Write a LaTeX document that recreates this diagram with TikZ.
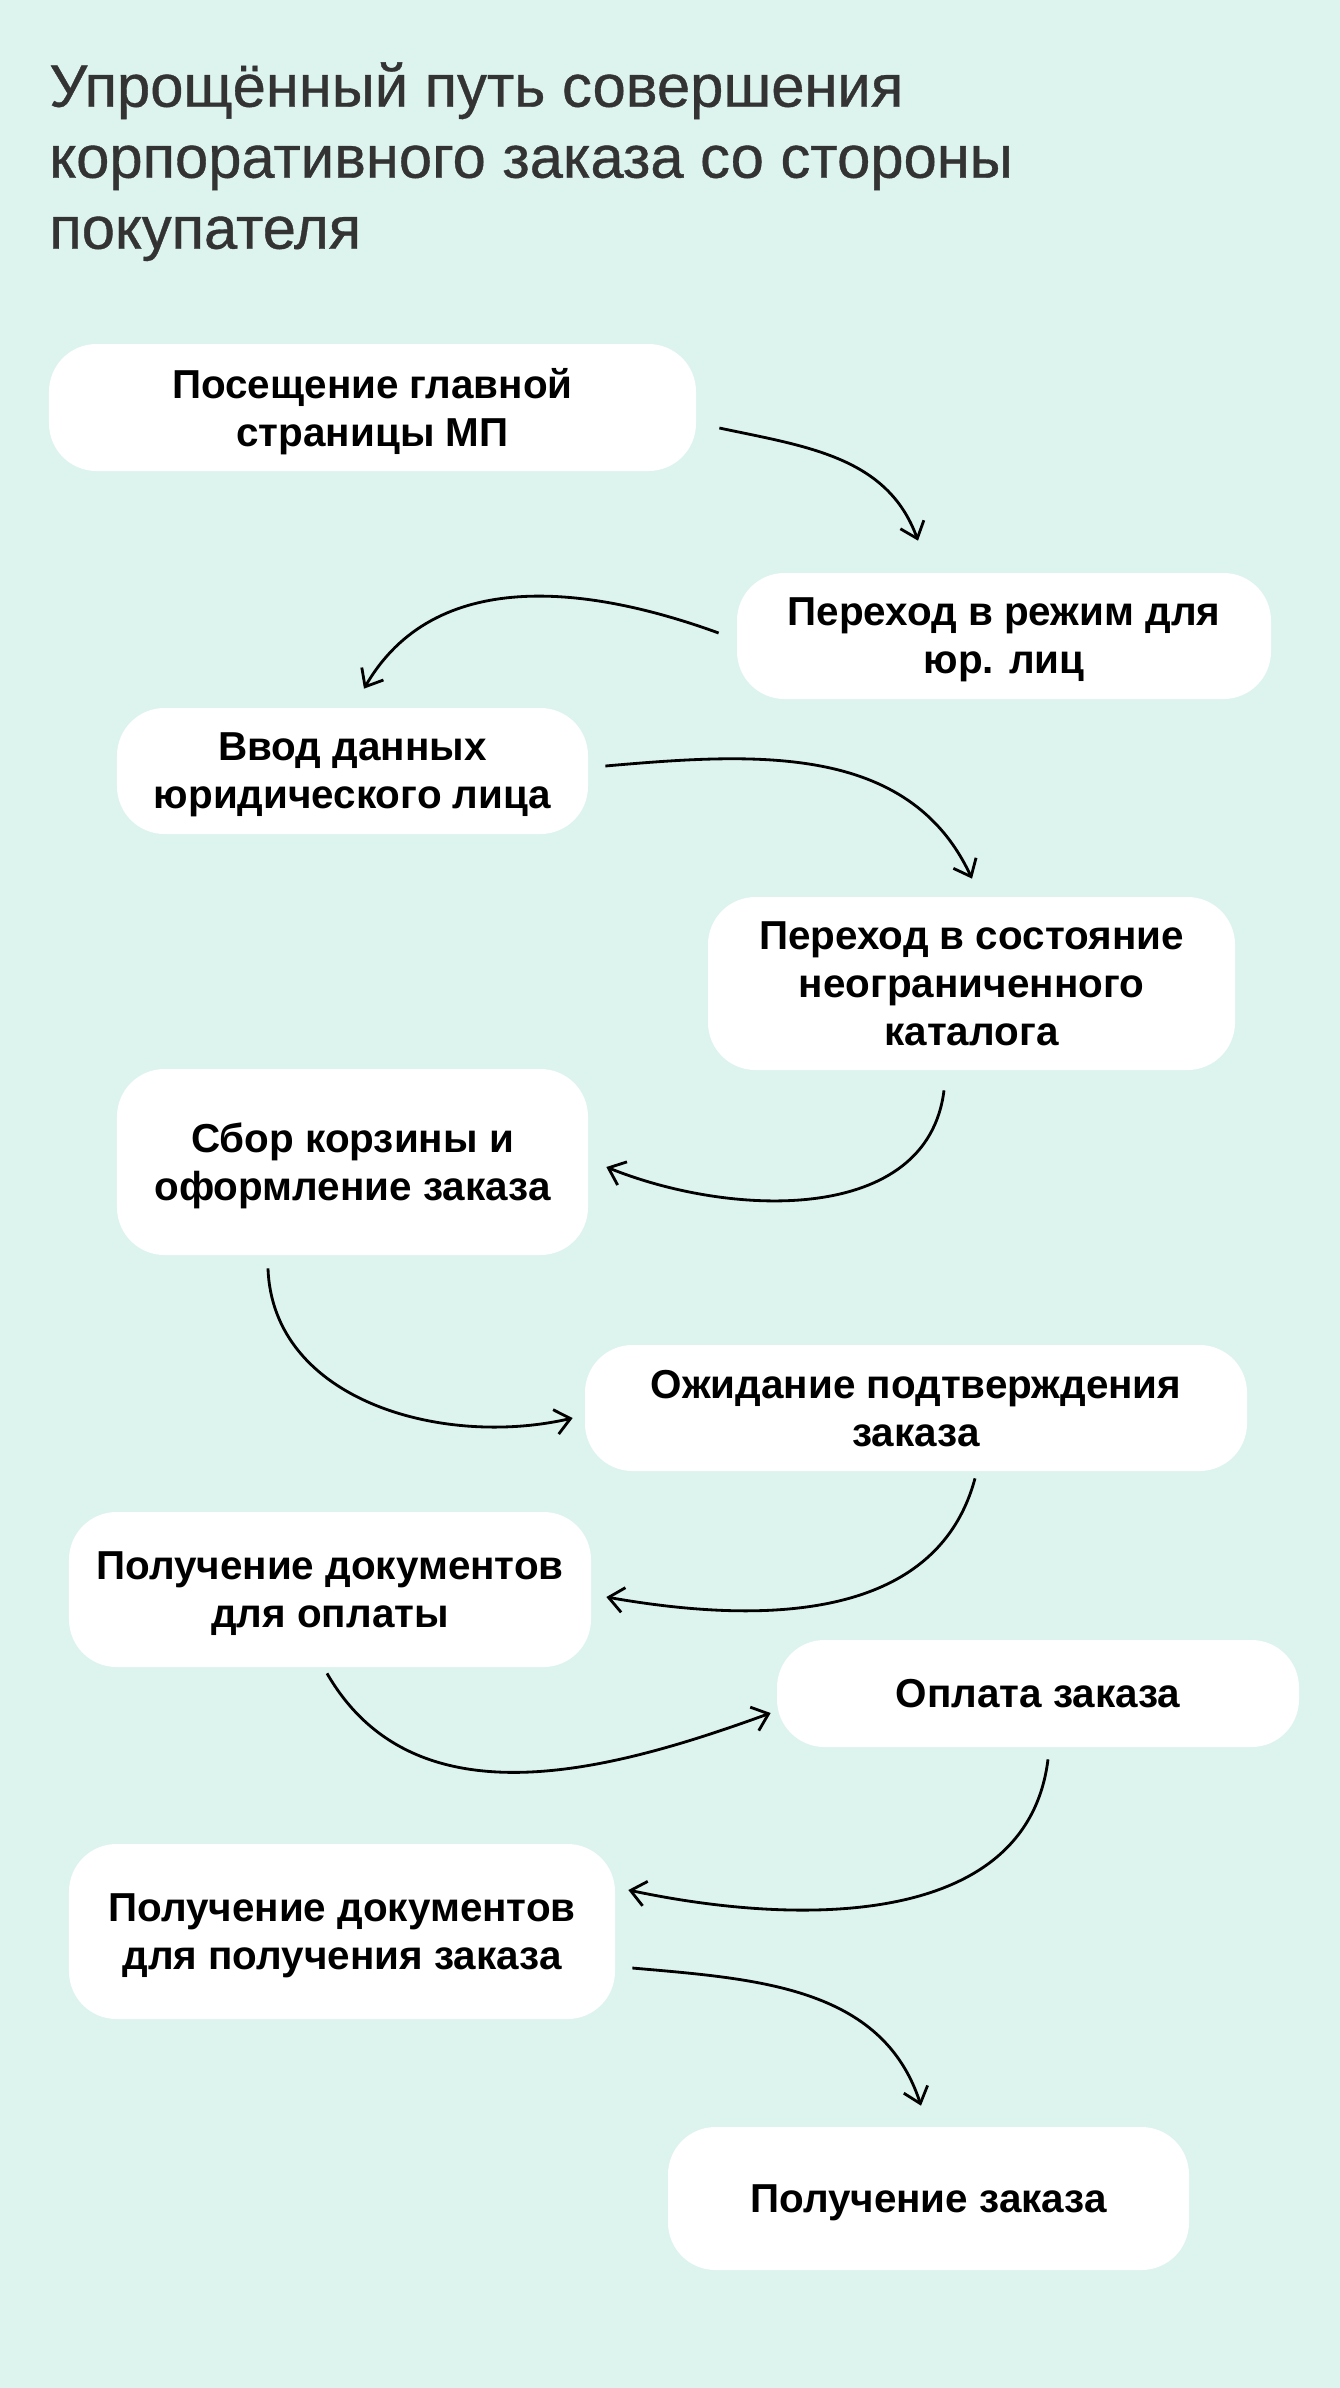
\documentclass[tikz,border=0pt]{standalone}
\usepackage{fontspec}
\setmainfont{Liberation Sans}
\newfontfamily\titlefont{Liberation Sans}[FakeBold=0.6]
\usepackage{xcolor}
\usetikzlibrary{arrows.meta,positioning}
\definecolor{mint}{HTML}{DCF3EE}
\definecolor{titlegray}{HTML}{333333}

\begin{document}
\begin{tikzpicture}[
  x=0.2mm, y=-0.2mm,
  font=\fontsize{23}{27.3}\selectfont\bfseries,
  box/.style={fill=white, rounded corners=9.5mm, align=center, inner sep=0pt,
    text depth=0pt},
  arrow/.style={-{Straight Barb[length=3mm, width=5mm]}, line width=1.6pt, draw=black}
]
  \useasboundingbox (0,0) rectangle (1340,2388);
  \fill[mint] (0,0) rectangle (1340,2388);

  \node[anchor=north west, align=left, inner sep=0pt, text=titlegray,
    font=\titlefont\fontsize{34}{40.4}\selectfont] (title) at (49,62)
    {Упрощённый путь совершения\\корпоративного заказа со стороны\\покупателя};

  \node[box, minimum width=129.4mm, minimum height=25.4mm] (visit) at (372.5,407.5)
    {Посещение главной\\страницы МП};
  \node[box, minimum width=106.8mm, minimum height=25.2mm] (b2b) at (1004,636)
    {Переход в режим для\\юр. лиц};
  \node[box, minimum width=94.2mm, minimum height=25.2mm] (company) at (352.5,771)
    {Ввод данных\\юридического лица};
  \node[box, minimum width=105.4mm, minimum height=34.6mm] (catalog) at (971.5,983.5)
    {Переход в состояние\\неограниченного\\каталога};
  \node[box, minimum width=94.2mm, minimum height=37.2mm] (cart) at (352.5,1162)
    {Сбор корзины и\\оформление заказа};
  \node[box, minimum width=132.4mm, minimum height=25.2mm] (confirm) at (916,1408)
    {Ожидание подтверждения\\заказа};
  \node[box, minimum width=104.4mm, minimum height=31mm] (invoice) at (330,1589.5)
    {Получение документов\\для оплаты};
  \node[box, minimum width=104.4mm, minimum height=21.4mm] (payment) at (1038,1693.5)
    {Оплата заказа};
  \node[box, minimum width=109.2mm, minimum height=35mm] (waybill) at (342,1931.5)
    {Получение документов\\для получения заказа};
  \node[box, minimum width=104.2mm, minimum height=28.6mm] (receive) at (928.5,2198.5)
    {Получение заказа};

  \draw[arrow] ([shift={(23,20.5)}]visit.east) to[out=-12, in=110] ([shift={(-86,-32)}]b2b.north);
  \draw[arrow] ([shift={(-18,-3)}]b2b.west) to[out=160, in=60] ([shift={(11.5,-19)}]company.north);
  \draw[arrow] ([shift={(17,-5)}]company.east) to[out=5, in=115] ([shift={(0.5,-18)}]catalog.north);
  \draw[arrow] ([shift={(-27.5,20)}]catalog.south) to[out=-97, in=-22] ([shift={(18,5)}]cart.east);
  \draw[arrow] ([shift={(-84.5,13)}]cart.south) to[out=-88, in=-167] ([shift={(-12,10)}]confirm.west);
  \draw[arrow] ([shift={(59,7)}]confirm.south) to[out=-105, in=-10] ([shift={(15,7.5)}]invoice.east);
  \draw[arrow] ([shift={(-3,6)}]invoice.south) to[out=-60, in=-160] ([shift={(-6,19.5)}]payment.west);
  \draw[arrow] ([shift={(10,12)}]payment.south) to[out=-97, in=-12] ([shift={(13,-41.5)}]waybill.east);
  \draw[arrow] ([shift={(17,36.5)}]waybill.east) to[out=-5, in=108] ([shift={(-7.5,-21)}]receive.north);
\end{tikzpicture}
\end{document}
